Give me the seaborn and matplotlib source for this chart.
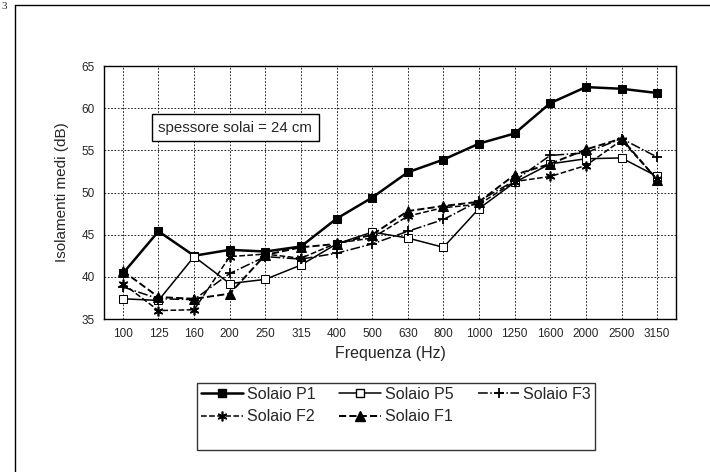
import matplotlib
matplotlib.use("Agg")
import matplotlib.pyplot as plt
import seaborn as sns
import pandas as pd
from matplotlib.lines import Line2D

freq_labels = ["100", "125", "160", "200", "250", "315", "400", "500", "630",
               "800", "1000", "1250", "1600", "2000", "2500", "3150"]
p1 = [40.4, 45.4, 42.5, 43.2, 43.0, 43.6, 46.9, 49.4, 52.4, 53.9, 55.8, 57.0, 60.6, 62.5, 62.3, 61.8]
p5 = [37.4, 37.2, 42.4, 39.2, 39.7, 41.4, 43.9, 45.3, 44.6, 43.5, 48.1, 51.2, 53.4, 54.0, 54.1, 51.9]
f3 = [38.8, 37.4, 37.3, 40.4, 42.4, 42.1, 42.8, 43.9, 45.4, 46.8, 49.0, 51.4, 54.4, 54.7, 56.4, 54.2]
f2 = [39.2, 36.0, 36.1, 42.4, 42.7, 42.2, 44.0, 44.6, 47.2, 48.2, 48.6, 51.3, 51.9, 53.2, 56.2, 51.6]
f1 = [40.7, 37.6, 37.4, 38.0, 42.6, 43.5, 43.9, 45.0, 47.8, 48.4, 48.9, 52.1, 53.4, 55.1, 56.4, 51.5]
y_ticks = [35, 40, 45, 50, 55, 60, 65]

sns.set_style("white")
plt.rcParams['font.family'] = ['Liberation Sans', 'DejaVu Sans']

fig = plt.figure(figsize=(7.10, 4.72), dpi=100)
ax = fig.add_axes([104/710, 1-319/472, 572/710, 253/472])

idx = list(range(len(freq_labels)))
series = [
    ("Solaio P1", p1, dict(linestyle='-', linewidth=1.8, marker='s', markersize=5.5,
                           markerfacecolor='black', markeredgecolor='black')),
    ("Solaio P5", p5, dict(linestyle='-', linewidth=1.1, marker='s', markersize=5.5,
                           markerfacecolor='white', markeredgecolor='black')),
    ("Solaio F3", f3, dict(linestyle='-.', linewidth=1.1, marker='+', markersize=7,
                           markeredgewidth=1.3, markeredgecolor='black')),
    ("Solaio F2", f2, dict(linestyle='--', linewidth=1.1, marker=(6, 2, 0), markersize=7,
                           markeredgewidth=1.2, markeredgecolor='black')),
    ("Solaio F1", f1, dict(linestyle='--', linewidth=1.4, marker='^', markersize=6.5,
                           markerfacecolor='black', markeredgecolor='black')),
]
handles = {}
for name, vals, kw in series:
    df = pd.DataFrame({"x": idx, "y": vals})
    sns.lineplot(data=df, x="x", y="y", ax=ax, color='black', legend=False, **kw)
    handles[name] = Line2D([0], [0], color='black', **kw)

ax.set_xlim(-0.53, 15.53)
ax.set_ylim(35, 65)
ax.set_xticks(idx)
ax.set_xticklabels(freq_labels, fontsize=8.5)
ax.set_yticks(y_ticks)
ax.set_yticklabels([str(t) for t in y_ticks], fontsize=8.5)
ax.tick_params(axis='both', direction='out', length=3.5, width=0.8, color='black', pad=3)
ax.grid(True, linestyle=(0, (2, 2)), color='black', linewidth=0.6)
for s in ax.spines.values():
    s.set_color('black')
    s.set_linewidth(1.0)

ax.set_xlabel("Frequenza (Hz)", fontsize=11.5, labelpad=4)
ax.set_ylabel("Isolamenti medi (dB)", fontsize=11, labelpad=9)

ax.text(1.0, 57.7, "spessore solai = 24 cm", fontsize=10.8, va='center', ha='left',
        bbox=dict(boxstyle='square,pad=0.42', facecolor='white', edgecolor='black', linewidth=1.0),
        zorder=5)

blank = Line2D([0], [0], color='none')
order = ["Solaio P1", "Solaio F2", None, "Solaio P5", "Solaio F1", None, "Solaio F3", None, None]
leg_handles = [handles[n] if n else blank for n in order]
leg_labels = [n if n else " " for n in order]
leg = fig.legend(leg_handles, leg_labels, ncol=3, fontsize=11.5,
                 loc='upper left', mode='expand',
                 bbox_to_anchor=(197/710, 1-450/472, 398/710, 67/472),
                 frameon=True, fancybox=False, edgecolor='black', borderpad=0.25,
                 borderaxespad=0,
                 handlelength=2.6, handletextpad=0.25, columnspacing=0.35,
                 labelspacing=0.45)
leg.get_frame().set_linewidth(1.0)

# scan frame
fig.add_artist(Line2D([15/710, 15/710], [0, 1-5/472], color='black', linewidth=1.0,
                      transform=fig.transFigure))
fig.add_artist(Line2D([15/710, 1], [1-5/472, 1-5/472], color='black', linewidth=1.0,
                      transform=fig.transFigure))
fig.text(2/710, 1-9/472, "3", fontsize=8, family='Liberation Serif')

fig.savefig("out.png", dpi=100)
